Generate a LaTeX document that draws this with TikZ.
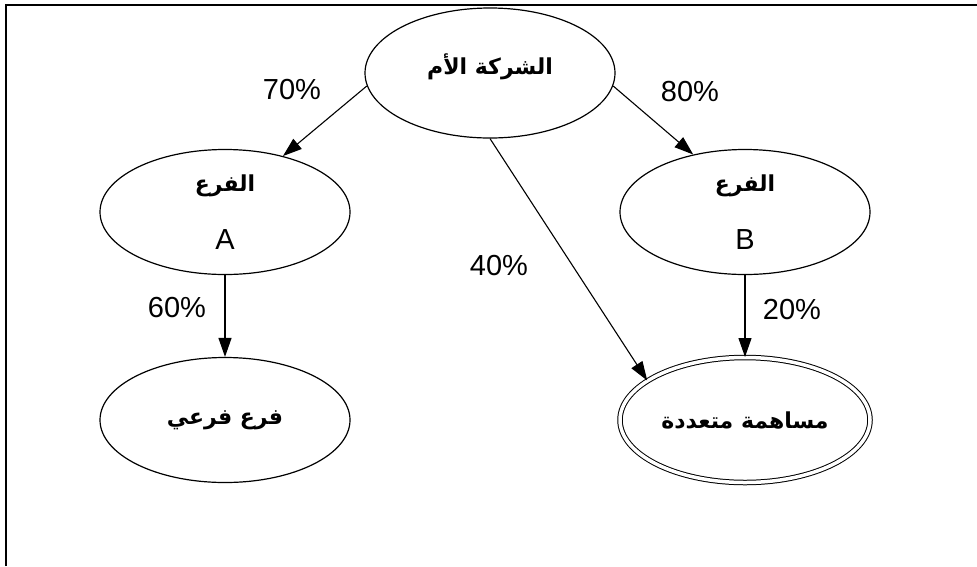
\documentclass[tikz,border=0pt]{standalone}
\usepackage{fontspec}
\setmainfont{Liberation Sans}
\newfontfamily\arabicfont[Script=Arabic]{DejaVu Sans}
\TeXXeTstate=1
\usepackage{tikz}
\usetikzlibrary{positioning,shapes.geometric,arrows.meta}

\newcommand{\arabtxt}[1]{{\arabicfont\bfseries\fontsize{22}{26}\selectfont\beginR #1\endR}}

\tikzset{
  firm/.style={ellipse, draw, line width=1.2pt, minimum width=250pt,
    minimum height=125pt, inner sep=0pt, align=center},
  jointfirm/.style={firm, double, double distance=3.5pt, line width=1pt},
  own/.style={-{Triangle[length=19pt,width=13pt]}, line width=1.1pt},
  pct/.style={font=\fontsize{29}{34}\selectfont, inner sep=0pt}
}

\begin{document}
\begin{tikzpicture}
\useasboundingbox (0pt,0pt) rectangle (977pt,-566pt);
% frame
\draw[line width=2.5pt] (6pt,-566pt) -- (6pt,-5pt) -- (977pt,-5pt);

% Nodes
% parent and branches
\node[firm, minimum height=130pt](parent) at (490pt,-73pt){\arabtxt{الشركة الأم}\\[6pt]};
\node[firm, on grid, below left = 139pt and 265pt of parent](brA)
  {\arabtxt{الفرع}\\[32pt]{\fontsize{29}{34}\selectfont A}};
\node[firm, on grid, below right = 139pt and 255pt of parent](brB)
  {\arabtxt{الفرع}\\[32pt]{\fontsize{29}{34}\selectfont B}};
% lower level
\node[firm, on grid, below = 208pt of brA](sub){\arabtxt{فرع فرعي}};
\node[jointfirm, on grid, below = 208pt of brB](joint){\arabtxt{مساهمة متعددة}};

% percentages
\node[pct] (p70) at (292pt,-90pt) {70\%};
\node[pct] (p80) at (690pt,-92pt) {80\%};
\node[pct] (p40) at (499pt,-266pt) {40\%};
\node[pct] (p60) at (177pt,-308pt) {60\%};
\node[pct] (p20) at (792pt,-310pt) {20\%};

\draw[own] (parent.186) -- (brA.44);
\draw[own] (parent.354) -- (brB.132);
\draw[own] (parent.south) -- (joint.158);
\draw[own] (brA.south) -- (sub.north);
\draw[own] (brB.south) -- (joint.north);

\end{tikzpicture}
\end{document}
